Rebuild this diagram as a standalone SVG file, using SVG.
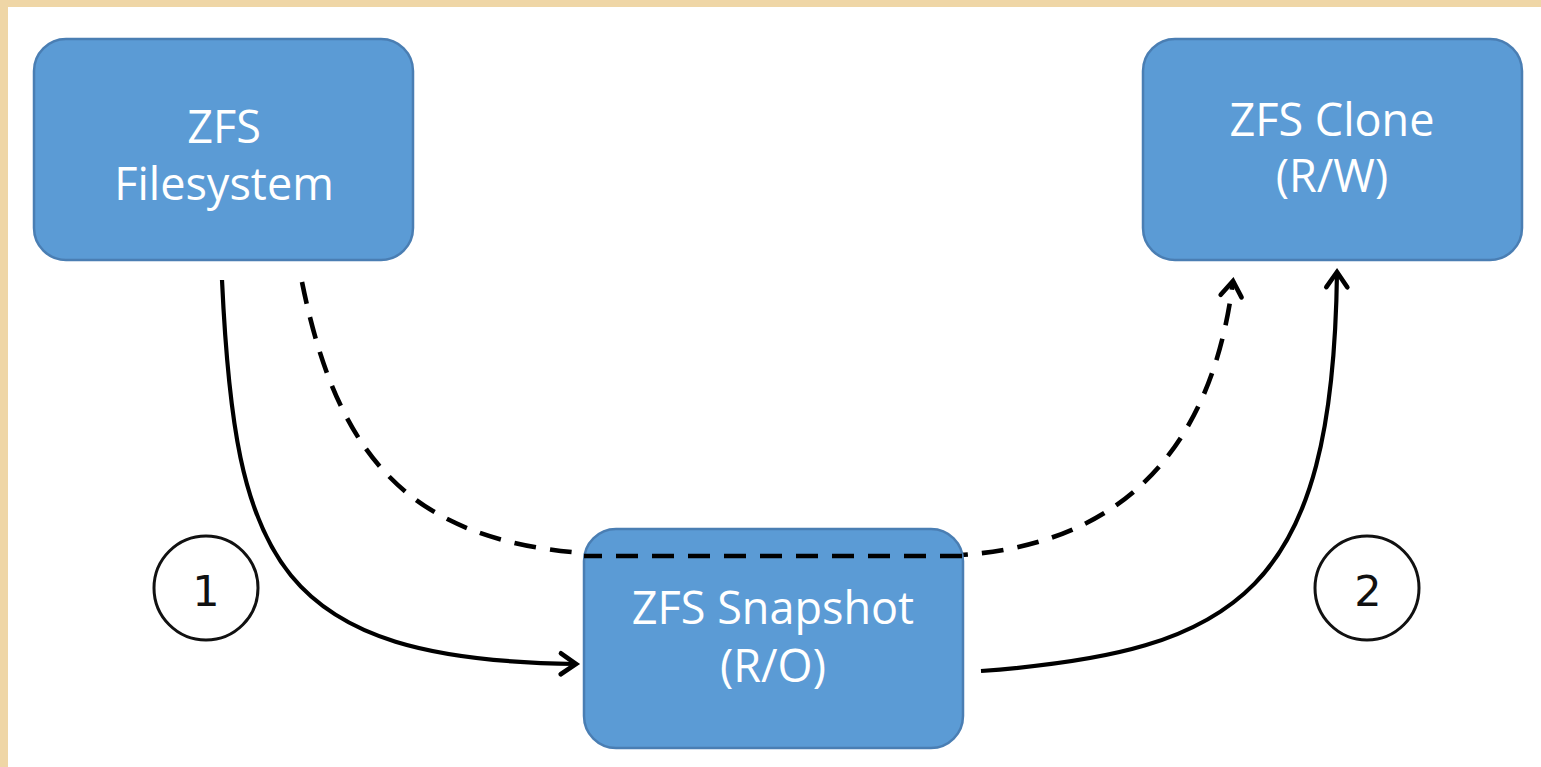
<svg xmlns="http://www.w3.org/2000/svg" width="1541" height="767" viewBox="0 0 1541 767">
<style>
.box{fill:#5B9BD5;stroke:#4A7EB3;stroke-width:2.5}
.lbl{font-family:"Open Sans","Noto Sans",sans-serif;font-size:45px;fill:#FFFFFF;text-anchor:middle}
.num{font-family:"DejaVu Sans",sans-serif;font-size:43px;fill:#111111;text-anchor:middle}
.ring{fill:#FFFFFF;stroke:#111111;stroke-width:3}
.conn{fill:none;stroke:#000000;stroke-width:4.2}
.dash{stroke-dasharray:22 14;stroke-width:4.6}
</style>
<defs>
<marker id="open" markerUnits="userSpaceOnUse" markerWidth="28" markerHeight="28" refX="16" refY="12" orient="auto" viewBox="0 0 24 24">
<path d="M3,3 L16,12 L3,21" fill="none" stroke="#000000" stroke-width="4" stroke-linecap="round" stroke-linejoin="miter"/>
</marker>
</defs>
<rect x="0" y="0" width="1541" height="767" fill="#EFD6A6"/>
<rect x="8" y="7" width="1533" height="760" fill="#FFFFFF"/>
<g id="connectors">
<path class="conn" d="M222,280 C235,560 275,660 576,664" marker-end="url(#open)"/>
<path class="conn" d="M981,671 C1240,652 1333,590 1337,272" marker-end="url(#open)"/>
<path class="conn dash" d="M302,282 C340,470 420,550 620,555 L940,556 C1120,552 1212,450 1233,281" marker-end="url(#open)"/>
</g>
<g id="node-filesystem">
<rect class="box" x="34" y="39" width="379" height="221" rx="32"/>
<text class="lbl" x="224" y="143">ZFS</text>
<text class="lbl" x="224" y="200">Filesystem</text>
</g>
<g id="node-clone">
<rect class="box" x="1143" y="39" width="379" height="221" rx="32"/>
<text class="lbl" x="1332" y="136">ZFS Clone</text>
<text class="lbl" x="1332" y="192">(R/W)</text>
</g>
<g id="node-snapshot">
<rect class="box" x="584" y="529" width="379" height="219" rx="32"/>
<path class="conn dash" d="M584,556 L963,556" stroke-dashoffset="4"/>
<text class="lbl" x="773" y="624">ZFS Snapshot</text>
<text class="lbl" x="773" y="682">(R/O)</text>
</g>
<g id="step-1">
<circle class="ring" cx="206" cy="588" r="52"/>
<text class="num" x="206" y="606">1</text>
</g>
<g id="step-2">
<circle class="ring" cx="1367" cy="588" r="52"/>
<text class="num" x="1368" y="606">2</text>
</g>
</svg>
